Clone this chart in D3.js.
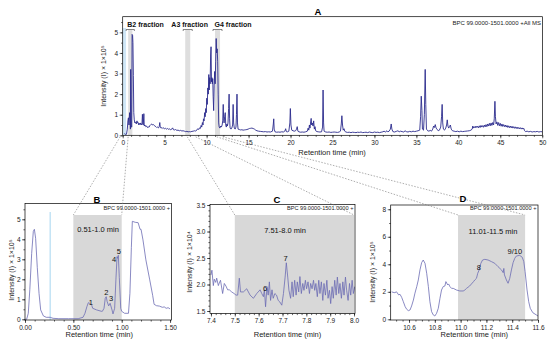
<!DOCTYPE html>
<html>
<head>
<meta charset="utf-8">
<script src="https://cdn.jsdelivr.net/npm/d3@7"></script>
<style>
  body { margin: 0; background: #fff; }
  svg { font-family: "Liberation Sans", Arial, sans-serif; }
  .axis path, .axis line { stroke: #000; stroke-width: 0.6; }
  .axis text { font-size: 6.5px; fill: #222; }
</style>
</head>
<body>
<div id="chart"></div>
<script>
// full chromatogram, [time (min), intensity x1e5]
var traceA = [
  [0.20,0.08],[0.30,0.05],[0.45,0.05],[0.55,0.3],[0.62,0.7],[0.68,0.85],
  [0.75,0.5],[0.82,1.1],[0.88,0.8],[0.92,0.3],[0.95,3.2],[0.98,2.0],[1.02,0.4],[1.08,0.4],[1.12,4.9],[1.18,4.85],
  [1.22,4.5],[1.27,2.9],[1.32,1.1],[1.38,0.75],[1.45,0.6],[1.55,0.65],[1.62,0.55],[1.70,0.7],[1.78,0.6],[1.85,0.62],
  [1.92,0.5],[2.00,0.58],[2.08,0.52],[2.15,0.6],[2.22,0.5],[2.30,0.55],[2.35,1.02],[2.40,0.55],[2.45,0.5],[2.52,1.05],
  [2.57,0.45],[2.65,0.5],[2.75,0.42],[2.85,0.45],[2.95,0.38],[3.05,0.4],[3.15,0.4],[3.25,0.48],[3.35,0.52],[3.45,0.55],
  [3.55,0.5],[3.65,0.52],[3.75,0.48],[3.85,0.45],[3.95,0.42],[4.05,0.38],[4.15,0.4],[4.25,0.36],[4.35,0.42],[4.42,0.62],
  [4.48,0.38],[4.58,0.35],[4.68,0.38],[4.78,0.33],[4.88,0.36],[4.98,0.32],[5.10,0.34],[5.22,0.3],[5.35,0.33],[5.48,0.29],
  [5.60,0.31],[5.72,0.27],[5.85,0.3],[5.95,0.36],[6.05,0.27],[6.18,0.26],[6.30,0.28],[6.45,0.24],[6.60,0.25],[6.75,0.22],
  [6.90,0.24],[7.05,0.21],[7.20,0.22],[7.35,0.2],[7.50,0.18],[7.65,0.19],[7.80,0.17],[7.95,0.18],[8.10,0.17],[8.25,0.19],
  [8.40,0.2],[8.55,0.22],[8.70,0.21],[8.85,0.26],[8.95,0.32],[9.05,0.28],[9.15,0.36],[9.25,0.33],[9.35,0.48],[9.42,0.4],
  [9.50,0.62],[9.57,0.5],[9.63,0.8],[9.70,0.7],[9.77,1.1],[9.83,0.9],[9.90,1.3],[9.96,1.1],[10.02,1.8],[10.08,1.5],
  [10.14,2.3],[10.20,2.0],[10.26,2.95],[10.31,2.2],[10.37,2.8],[10.42,2.5],[10.48,3.9],[10.53,4.3],[10.58,2.6],[10.63,2.8],
  [10.68,2.5],[10.73,2.75],[10.78,1.9],[10.84,1.2],[10.90,2.4],[10.96,3.1],[11.02,2.5],[11.08,3.6],[11.14,4.7],[11.20,4.0],
  [11.26,4.2],[11.32,3.6],[11.38,2.0],[11.44,0.6],[11.50,0.4],[11.58,0.35],[11.68,0.45],[11.76,0.4],[11.85,0.5],[11.92,0.7],
  [11.98,1.5],[12.03,0.8],[12.08,0.6],[12.15,0.9],[12.22,1.1],[12.28,0.5],[12.35,0.4],[12.42,0.55],[12.48,0.45],[12.55,0.6],
  [12.62,1.3],[12.68,2.0],[12.74,0.8],[12.80,0.35],[12.90,0.3],[13.00,0.35],[13.10,0.5],[13.16,1.5],[13.22,0.6],[13.30,0.35],
  [13.40,0.3],[13.50,0.4],[13.56,1.0],[13.62,2.0],[13.68,0.6],[13.75,0.3],[13.90,0.28],[14.05,0.26],[14.20,0.27],[14.35,0.25],
  [14.50,0.26],[14.65,0.27],[14.80,0.28],[14.95,0.3],[15.10,0.33],[15.25,0.34],[15.40,0.35],[15.55,0.33],[15.70,0.3],[15.85,0.25],
  [16.00,0.22],[16.20,0.2],[16.40,0.19],[16.60,0.18],[16.80,0.17],[17.00,0.18],[17.20,0.16],[17.40,0.17],[17.60,0.16],[17.85,0.2],
  [17.95,0.55],[18.00,0.8],[18.05,0.3],[18.15,0.17],[18.35,0.15],[18.55,0.16],[18.75,0.15],[18.95,0.17],[19.15,0.16],[19.35,0.22],
  [19.42,0.32],[19.50,0.18],[19.65,0.17],[19.80,0.2],[19.92,0.6],[19.98,1.3],[20.05,0.5],[20.15,0.25],[20.30,0.22],[20.45,0.2],
  [20.60,0.22],[20.72,0.3],[20.80,0.42],[20.88,0.2],[21.00,0.17],[21.20,0.15],[21.40,0.16],[21.60,0.15],[21.80,0.17],[22.00,0.2],
  [22.10,0.35],[22.18,0.25],[22.25,0.5],[22.32,0.35],[22.40,0.65],[22.46,0.82],[22.52,0.5],[22.60,0.6],[22.68,0.45],[22.76,0.7],
  [22.84,0.3],[22.92,0.42],[23.00,0.22],[23.15,0.18],[23.30,0.17],[23.50,0.16],[23.70,0.17],[23.82,0.4],[23.88,2.2],[23.94,0.6],
  [24.00,0.2],[24.20,0.16],[24.40,0.15],[24.60,0.16],[24.80,0.14],[25.00,0.15],[25.20,0.16],[25.40,0.15],[25.60,0.14],[25.80,0.16],
  [25.95,0.2],[26.05,0.55],[26.12,0.95],[26.20,0.5],[26.28,0.25],[26.38,0.32],[26.46,0.2],[26.60,0.16],[26.80,0.14],[27.00,0.15],
  [27.20,0.13],[27.40,0.15],[27.60,0.14],[27.80,0.13],[28.00,0.15],[28.20,0.14],[28.40,0.16],[28.60,0.13],[28.80,0.14],[29.00,0.15],
  [29.20,0.13],[29.40,0.16],[29.60,0.14],[29.80,0.13],[30.00,0.16],[30.20,0.14],[30.40,0.15],[30.60,0.13],[30.80,0.15],[31.00,0.17],
  [31.15,0.2],[31.30,0.16],[31.50,0.22],[31.60,0.17],[31.75,0.2],[31.90,0.3],[32.00,0.55],[32.08,0.3],[32.20,0.18],[32.40,0.16],
  [32.60,0.19],[32.80,0.22],[32.95,0.17],[33.10,0.2],[33.30,0.18],[33.50,0.16],[33.65,0.22],[33.80,0.18],[34.00,0.16],[34.20,0.19],
  [34.40,0.17],[34.60,0.2],[34.80,0.18],[35.00,0.2],[35.20,0.22],[35.40,0.25],[35.50,0.9],[35.58,1.9],[35.66,1.2],[35.72,0.3],
  [35.85,0.25],[35.95,1.0],[36.05,3.2],[36.12,1.5],[36.20,0.3],[36.35,0.22],[36.50,0.2],[36.65,0.24],[36.80,0.2],[36.95,0.3],
  [37.05,0.45],[37.15,0.38],[37.25,0.52],[37.35,0.35],[37.45,0.3],[37.60,0.22],[37.75,0.25],[37.90,0.4],[38.00,0.9],[38.07,1.5],
  [38.14,0.6],[38.22,0.3],[38.35,0.25],[38.50,0.35],[38.60,0.5],[38.68,0.75],[38.76,0.45],[38.85,0.35],[38.95,0.42],[39.05,0.5],
  [39.15,0.3],[39.30,0.22],[39.50,0.2],[39.70,0.18],[39.90,0.2],[40.10,0.17],[40.30,0.2],[40.50,0.18],[40.70,0.19],[40.90,0.2],
  [41.10,0.21],[41.30,0.22],[41.50,0.25],[41.65,0.3],[41.72,0.45],[41.80,0.35],[41.90,0.42],[42.00,0.36],[42.10,0.45],[42.20,0.38],
  [42.30,0.44],[42.40,0.36],[42.50,0.46],[42.60,0.38],[42.70,0.48],[42.80,0.4],[42.90,0.47],[43.00,0.39],[43.10,0.5],[43.20,0.41],
  [43.30,0.52],[43.40,0.42],[43.50,0.55],[43.60,0.45],[43.70,0.58],[43.80,0.46],[43.90,0.6],[44.00,0.48],[44.10,0.62],[44.20,0.5],
  [44.28,0.8],[44.36,1.65],[44.42,0.9],[44.50,0.55],[44.60,0.65],[44.70,0.48],[44.80,0.62],[44.90,0.46],[45.00,0.58],[45.10,0.44],
  [45.20,0.55],[45.30,0.43],[45.40,0.52],[45.50,0.42],[45.60,0.5],[45.70,0.4],[45.80,0.48],[45.90,0.38],[46.00,0.46],[46.10,0.37],
  [46.20,0.45],[46.30,0.36],[46.40,0.44],[46.50,0.35],[46.60,0.42],[46.70,0.34],[46.80,0.41],[46.90,0.33],[47.00,0.4],[47.10,0.32],
  [47.20,0.38],[47.30,0.31],[47.40,0.37],[47.50,0.3],[47.60,0.36],[47.70,0.3],[47.80,0.34],[47.90,0.22],[48.00,0.18],[48.20,0.2],
  [48.40,0.17],[48.60,0.19],[48.80,0.16],[49.00,0.18],[49.20,0.17],[49.40,0.19],[49.60,0.16],[49.80,0.18],[50.00,0.17]
];

// zoom B, 0-1.5 min, intensity x1e5
var traceB = [
  [0.00,0.0],[0.017,0.0],[0.034,0.3],[0.05,1.5],[0.069,3.3],[0.086,4.4],[0.097,4.5],[0.11,4.05],[0.127,2.6],[0.145,1.3],
  [0.162,0.47],[0.19,0.17],[0.22,0.1],[0.26,0.1],[0.29,0.05],[0.35,0.03],[0.45,0.03],[0.55,0.03],[0.60,0.1],[0.62,0.3],
  [0.64,0.63],[0.655,0.83],[0.67,0.8],[0.69,0.7],[0.70,0.55],[0.74,0.47],[0.79,0.4],[0.80,0.4],[0.817,0.55],[0.83,1.05],
  [0.84,1.13],[0.85,0.88],[0.865,0.67],[0.88,0.8],[0.90,0.47],[0.91,0.27],[0.927,0.55],[0.94,1.97],[0.952,3.13],[0.958,3.05],
  [0.965,3.2],[0.975,2.1],[0.99,0.55],[1.0,0.4],[1.03,0.3],[1.07,0.3],[1.085,1.3],[1.10,3.6],[1.11,4.9],[1.14,4.85],
  [1.17,4.83],[1.19,4.5],[1.20,4.5],[1.22,3.97],[1.25,2.97],[1.29,1.97],[1.32,1.2],[1.335,0.75],[1.36,0.68],[1.39,0.66],
  [1.42,0.6],[1.44,0.62],[1.46,0.55],[1.48,0.58],[1.50,0.52]
];

// zoom C, 7.4-8.0 min, intensity x1e4
var traceC = [
  [7.400,2.18],[7.404,2.27],[7.410,1.98],[7.414,2.1],[7.420,2.04],[7.424,2.12],[7.431,1.98],[7.435,2.03],[7.440,2.08],[7.449,1.83],
  [7.456,2.02],[7.463,1.97],[7.470,1.9],[7.477,1.9],[7.487,1.86],[7.497,1.83],[7.505,1.8],[7.512,1.8],[7.519,2.12],[7.524,1.86],
  [7.536,1.86],[7.550,1.92],[7.564,1.8],[7.578,1.74],[7.592,1.83],[7.606,1.9],[7.613,1.83],[7.620,1.77],[7.624,1.9],[7.629,1.58],
  [7.635,1.96],[7.640,1.8],[7.645,2.05],[7.650,1.7],[7.656,1.9],[7.661,1.74],[7.668,1.83],[7.675,1.8],[7.682,1.7],[7.689,1.67],
  [7.697,1.61],[7.704,1.83],[7.711,2.14],[7.716,2.41],[7.722,2.14],[7.727,1.89],[7.734,1.74],[7.740,2.05],[7.745,1.77],[7.751,2.08],
  [7.757,1.8],[7.762,2.05],[7.768,1.86],[7.773,2.15],[7.779,1.83],[7.785,2.02],[7.790,1.89],[7.796,2.08],[7.801,1.92],[7.807,2.05],
  [7.813,1.83],[7.818,2.02],[7.824,1.92],[7.830,2.08],[7.835,1.89],[7.840,2.02],[7.846,1.77],[7.852,2.08],[7.857,1.83],[7.863,2.05],
  [7.869,1.7],[7.874,2.02],[7.880,1.8],[7.886,2.08],[7.891,1.74],[7.897,1.89],[7.902,1.64],[7.908,1.96],[7.913,1.74],[7.919,2.08],
  [7.925,1.8],[7.930,2.14],[7.936,1.83],[7.941,2.02],[7.947,1.74],[7.953,2.05],[7.958,1.8],[7.964,2.14],[7.969,1.89],[7.975,1.7],
  [7.981,2.02],[7.986,1.8],[7.992,2.08],[7.997,1.83],[8.003,1.96]
];

// zoom D, 10.46-11.6 min, intensity x1e5
var traceD = [
  [10.466,2.0],[10.476,1.96],[10.49,1.94],[10.503,2.0],[10.52,1.77],[10.53,1.82],[10.543,1.6],[10.556,1.28],[10.57,0.92],[10.582,0.73],
  [10.595,0.63],[10.608,0.68],[10.62,0.97],[10.634,1.4],[10.646,1.9],[10.66,2.38],[10.672,2.86],[10.685,3.59],[10.698,4.12],[10.71,4.31],
  [10.724,4.07],[10.737,3.35],[10.75,2.38],[10.762,1.28],[10.775,0.56],[10.788,0.32],[10.80,0.24],[10.814,0.44],[10.827,0.8],[10.84,1.53],
  [10.852,2.13],[10.865,2.38],[10.878,2.42],[10.886,2.74],[10.90,2.5],[10.907,2.57],[10.917,2.38],[10.93,2.25],[10.943,2.25],[10.968,2.13],
  [10.994,2.06],[11.02,2.06],[11.033,2.13],[11.046,2.25],[11.07,2.42],[11.10,2.74],[11.11,2.86],[11.123,2.98],[11.133,3.35],[11.144,3.59],
  [11.15,3.83],[11.157,4.07],[11.17,4.31],[11.188,4.36],[11.213,4.31],[11.24,4.19],[11.265,4.07],[11.29,3.83],[11.317,3.59],[11.33,3.39],
  [11.335,3.7],[11.34,3.23],[11.355,2.86],[11.368,2.62],[11.381,2.98],[11.394,3.59],[11.407,4.12],[11.42,4.44],[11.432,4.6],[11.458,4.65],
  [11.478,4.51],[11.49,4.19],[11.50,3.47],[11.515,2.13],[11.528,1.28],[11.54,0.8],[11.56,0.48],[11.587,0.32],[11.60,0.24]
];

// fraction bands in A (drawn width, min)
var fractionNames = ["B2 fraction", "A3 fraction", "G4 fraction"];
var fractionStart = [0.65, 7.45, 11.0];
var fractionEnd = [1.15, 8.05, 11.6];
var fractionLabelX = [0.55, 5.8, 10.95];
// where the dashed connectors leave panel A
var connectFrom = [[-0.3, 0.65], [7.7, 8.7], [11.2, 11.9]];

// zoom panels
var zoomTitles = ["B", "C", "D"];
var zoomRanges = ["0.51-1.0 min", "7.51-8.0 min", "11.01-11.5 min"];
var shadeStart = [0.5, 7.5, 10.98];
var shadeEnd = [1.0, 8.0, 11.5];
var peaksB = [["1",0.68,0.83],["2",0.84,1.33],["3",0.89,1.03],["4",0.92,3.0],["5",0.97,3.4]];
var peaksC = [["6",7.627,1.93],["7",7.713,2.49]];
var peaksD = [["8",11.141,3.78],["9/10",11.42,4.92]];

var navy = "#2a2a8c", lilac = "#6c6cb4", shadeCol = "#d8d8d8";

var svg = d3.select("#chart").append("svg")
  .attr("width", 550)
  .attr("height", 343);

var defs = svg.append("defs");

function drawPanel(p) {
  var x = d3.scaleLinear().domain(p.xDomain).range([p.left, p.right]);
  var y = d3.scaleLinear().domain(p.yDomain).range([p.bottom, p.top]);

  defs.append("clipPath").attr("id", "clip-" + p.id)
    .append("rect")
    .attr("x", p.left).attr("y", p.top)
    .attr("width", p.right - p.left).attr("height", p.bottom - p.top);

  var g = svg.append("g");

  // minor ticks
  g.append("g")
    .attr("class", "axis")
    .attr("transform", "translate(0," + p.bottom + ")")
    .call(d3.axisBottom(x).tickValues(p.xMinor).tickSize(1.6).tickFormat(""))
    .select(".domain").remove();
  g.append("g")
    .attr("class", "axis")
    .attr("transform", "translate(" + p.left + ",0)")
    .call(d3.axisLeft(y).tickValues(p.yMinor).tickSize(1.6).tickFormat(""))
    .select(".domain").remove();

  g.append("g")
    .attr("class", "axis")
    .attr("transform", "translate(0," + p.bottom + ")")
    .call(d3.axisBottom(x).tickValues(p.xTicks).tickSize(3).tickPadding(2).tickFormat(p.xFormat))
    .select(".domain").remove();
  g.append("g")
    .attr("class", "axis")
    .attr("transform", "translate(" + p.left + ",0)")
    .call(d3.axisLeft(y).tickValues(p.yTicks).tickSize(3).tickPadding(1.5).tickFormat(p.yFormat))
    .select(".domain").remove();

  g.append("text")
    .attr("x", (p.left + p.right) / 2 + (p.xTitleShift || 0))
    .attr("y", p.xTitleY)
    .attr("text-anchor", "middle")
    .attr("font-size", "7.5px")
    .attr("fill", "#222")
    .text("Retention time (min)");

  g.append("text")
    .attr("transform", "translate(" + p.yTitleX + "," + p.yTitleY + ") rotate(-90)")
    .attr("text-anchor", "middle")
    .attr("font-size", "7px")
    .attr("fill", "#222")
    .text(p.yTitle);

  return { g: g, x: x, y: y };
}

function drawFrame(p) {
  svg.append("rect")
    .attr("x", p.left).attr("y", p.top)
    .attr("width", p.right - p.left).attr("height", p.bottom - p.top)
    .attr("fill", "none")
    .attr("stroke", "#000")
    .attr("stroke-width", 0.7);
}

function range(a, b, s) {
  return d3.range(Math.round(a / s), Math.round(b / s) + 1).map(function(i) { return +(i * s).toFixed(4); });
}

// ---------- panel A ----------
var pA = {
  id: "a", left: 122.7, right: 542.5, top: 16.7, bottom: 135.3,
  xDomain: [0, 50.03], yDomain: [0, 5.76],
  xTicks: range(0, 50, 5), xMinor: range(0, 50, 1), xFormat: d3.format("d"),
  yTicks: range(0, 5, 1), yMinor: range(0, 5.5, 0.5), yFormat: d3.format("d"),
  xTitleY: 155, yTitleX: 106, yTitleY: 76, xTitleShift: -0.5,
  yTitle: "Intensity (I) \u00d7 1\u00d710\u2075"
};
var A = drawPanel(pA);

A.g.append("rect")
  .attr("x", A.x(0)).attr("y", 28)
  .attr("width", A.x(0.4) - A.x(0)).attr("height", pA.bottom - 28)
  .attr("fill", "#cfe6f6");

fractionNames.forEach(function(name, i) {
  var x0 = A.x(fractionStart[i]), x1 = A.x(fractionEnd[i]);
  A.g.append("rect")
    .attr("x", x0).attr("y", 30)
    .attr("width", x1 - x0).attr("height", pA.bottom - 30)
    .attr("fill", "#dedede");
  A.g.append("path")
    .attr("d", "M" + (x0 - 2) + ",31V29.5H" + (x1 + 2) + "V31")
    .attr("fill", "none").attr("stroke", "#333").attr("stroke-width", 0.6);
  A.g.append("text")
    .attr("x", A.x(fractionLabelX[i])).attr("y", 26.5)
    .attr("font-size", "7px").attr("font-weight", "bold").attr("fill", "#111")
    .text(name);
});

A.g.append("path")
  .datum(traceA)
  .attr("clip-path", "url(#clip-a)")
  .attr("fill", "none")
  .attr("stroke", navy)
  .attr("stroke-width", 0.9)
  .attr("stroke-linejoin", "round")
  .attr("d", d3.line().x(function(d) { return A.x(d[0]); }).y(function(d) { return A.y(d[1]); }));

drawFrame(pA);

svg.append("text")
  .attr("x", 318).attr("y", 15)
  .attr("text-anchor", "middle")
  .attr("font-size", "9.5px").attr("font-weight", "bold")
  .text("A");

svg.append("text")
  .attr("x", 541).attr("y", 24.5)
  .attr("text-anchor", "end")
  .attr("font-size", "6px").attr("fill", "#222")
  .text("BPC 99.0000-1501.0000 +All MS");

// ---------- zoom panels ----------
var zoomPanels = [
  { id: "b", left: 25, right: 171.5, top: 203.5, bottom: 320,
    xDomain: [0, 1.515], yDomain: [-0.035, 5.79],
    xTicks: [0, 0.5, 1.0, 1.5], xMinor: range(0, 1.5, 0.1), xFormat: d3.format(".2f"),
    yTicks: range(0, 5, 1), yMinor: range(0, 5.5, 0.5), yFormat: d3.format("d"),
    xTitleY: 337, yTitleX: 13.5, yTitleY: 270, xTitleShift: 1,
    yTitle: "Intensity (I) \u00d7 1\u00d710\u2075",
    trace: traceB, peaks: peaksB, titleX: 97, titleY: 202.5,
    bpcX: 103.5, rangeX: 98, rangeY: 232 },
  { id: "c", left: 210, right: 355, top: 204.5, bottom: 313.5,
    xDomain: [7.396, 8.004], yDomain: [1.453, 3.51],
    xTicks: range(7.4, 8.0, 0.1), xMinor: range(7.4, 8.0, 0.02), xFormat: d3.format(".1f"),
    yTicks: range(1.5, 3.5, 0.5), yMinor: range(1.5, 3.5, 0.1), yFormat: d3.format(".1f"),
    xTitleY: 337, yTitleX: 192, yTitleY: 262, xTitleShift: 5,
    yTitle: "Intensity (I) \u00d7 1\u00d710\u2074",
    trace: traceC, peaks: peaksC, titleX: 277, titleY: 202.5,
    bpcX: 287, rangeX: 285, rangeY: 232.5 },
  { id: "d", left: 390.7, right: 538, top: 205, bottom: 320,
    xDomain: [10.458, 11.6], yDomain: [-0.05, 8.31],
    xTicks: range(10.6, 11.6, 0.2), xMinor: range(10.5, 11.6, 0.05), xFormat: d3.format(".1f"),
    yTicks: range(0, 8, 2), yMinor: range(0, 8, 1), yFormat: d3.format("d"),
    xTitleY: 337, yTitleX: 375, yTitleY: 272, xTitleShift: 10,
    yTitle: "Intensity (I) \u00d7 1\u00d710\u2075",
    trace: traceD, peaks: peaksD, titleX: 463, titleY: 201.5,
    bpcX: 470, rangeX: 493, rangeY: 234 }
];

var shadeTop = 215;

zoomPanels.forEach(function(p, i) {
  var P = drawPanel(p);

  P.g.append("rect")
    .attr("x", P.x(shadeStart[i])).attr("y", shadeTop)
    .attr("width", P.x(shadeEnd[i]) - P.x(shadeStart[i]))
    .attr("height", p.bottom - shadeTop)
    .attr("fill", shadeCol);

  if (p.id == "b") {
    P.g.append("line")
      .attr("x1", P.x(0.26)).attr("x2", P.x(0.26))
      .attr("y1", 212).attr("y2", p.bottom)
      .attr("stroke", "#7cc3e8").attr("stroke-width", 0.7);
  }

  P.g.append("path")
    .datum(p.trace)
    .attr("clip-path", "url(#clip-" + p.id + ")")
    .attr("fill", "none")
    .attr("stroke", lilac)
    .attr("stroke-width", 0.8)
    .attr("stroke-linejoin", "round")
    .attr("d", d3.line().x(function(d) { return P.x(d[0]); }).y(function(d) { return P.y(d[1]); }));

  P.g.selectAll(".peak-" + p.id)
    .data(p.peaks)
    .enter().append("text")
    .attr("x", function(d) { return P.x(d[1]); })
    .attr("y", function(d) { return P.y(d[2]); })
    .attr("dy", "0.35em")
    .attr("text-anchor", "middle")
    .attr("font-size", "7.5px")
    .attr("fill", "#111")
    .text(function(d) { return d[0]; });

  P.g.append("text")
    .attr("x", p.rangeX).attr("y", p.rangeY)
    .attr("text-anchor", "middle")
    .attr("font-size", "7.5px").attr("fill", "#111")
    .text(zoomRanges[i]);

  P.g.append("text")
    .attr("clip-path", "url(#clip-" + p.id + ")")
    .attr("x", p.bpcX).attr("y", 209.5)
    .attr("font-size", "5.6px").attr("fill", "#222")
    .text("BPC 99.0000-1501.0000 +");

  drawFrame(p);

  svg.append("text")
    .attr("x", p.titleX).attr("y", p.titleY)
    .attr("text-anchor", "middle")
    .attr("font-size", "9.5px").attr("font-weight", "bold")
    .text(zoomTitles[i]);

  // dashed connectors from panel A down to the shaded zone
  var dstX = [P.x(shadeStart[i]), P.x(shadeEnd[i])];
  [0, 1].forEach(function(k) {
    svg.append("line")
      .attr("x1", A.x(connectFrom[i][k])).attr("y1", pA.bottom + 1.5)
      .attr("x2", dstX[k]).attr("y2", shadeTop)
      .attr("stroke", "#777")
      .attr("stroke-width", 0.6)
      .attr("stroke-dasharray", "1.5,1.5");
  });
});
</script>
</body>
</html>
